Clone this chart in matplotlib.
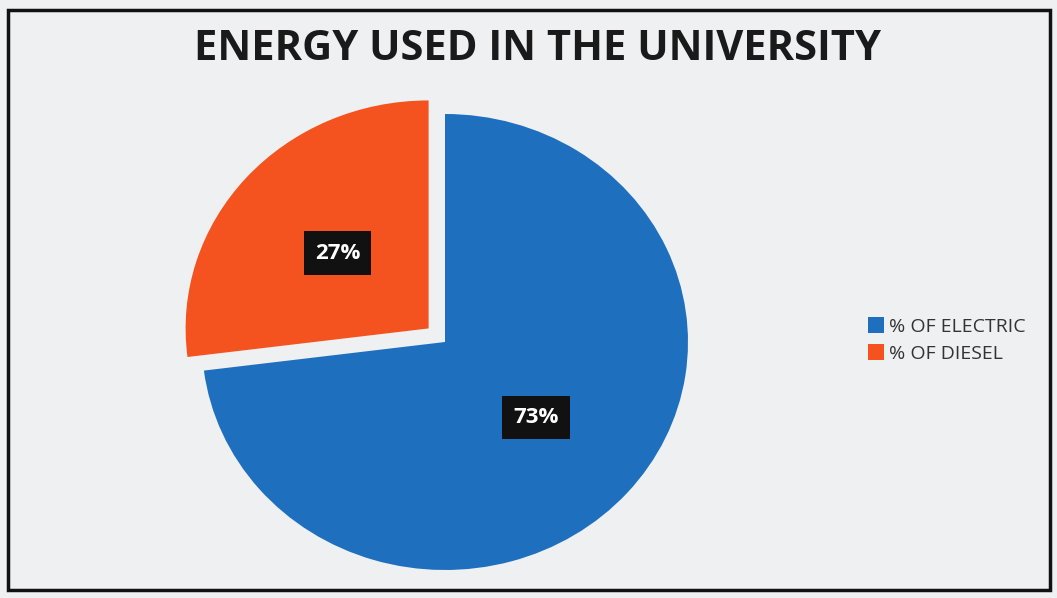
import matplotlib.pyplot as plt
from matplotlib.patches import Rectangle

labels = ["% OF ELECTRIC", "% OF DIESEL"]
shares = [73, 27]
colors = ["#1f6fbf", "#f4531f"]
explode = [0, 0.09]

fig = plt.figure(figsize=(10.57, 5.98), dpi=100)
fig.patch.set_facecolor("#eef0f2")

# frame round the chart
fig.add_artist(Rectangle((8 / 1057, 8 / 598), 1042 / 1057, 580 / 598,
                         transform=fig.transFigure, fill=False,
                         edgecolor="#111111", linewidth=2.5))

fig.text(0.5085, 0.918, "ENERGY USED IN THE UNIVERSITY", ha="center", va="center",
         fontsize=30, fontweight="bold", family="Open Sans", color="#1a1a1a")

# pie axes, centre ~ (445, 342) px; the photo squashes it a little vertically
cx, cy = 445, 598 - 342
half_x, half_y = 243 * 1.1, 228 * 1.1
ax = fig.add_axes([(cx - half_x) / 1057, (cy - half_y) / 598, 2 * half_x / 1057, 2 * half_y / 598])
ax.set_facecolor("none")

wedges, texts, autotexts = ax.pie(
    shares, colors=colors, explode=explode, startangle=90, counterclock=False,
    autopct="%d%%", pctdistance=0.5,
    textprops=dict(color="white", fontsize=16, fontweight="bold", family="Open Sans"),
)
for t in autotexts:
    t.set_bbox(dict(facecolor="#111111", edgecolor="none", boxstyle="square,pad=0.5"))
ax.set_xlim(-1.1, 1.1)
ax.set_ylim(-1.1, 1.1)
ax.set_aspect("auto")
ax.axis("off")

fig.legend(wedges, labels, loc="center left", bbox_to_anchor=(850 / 1057, 1 - 340 / 598),
           frameon=False, handlelength=0.85, handleheight=0.85, handletextpad=0.25,
           labelspacing=0.45, prop=dict(family="Open Sans", size=14), labelcolor="#333333")

fig.savefig("out.png", dpi=100, facecolor=fig.get_facecolor())
